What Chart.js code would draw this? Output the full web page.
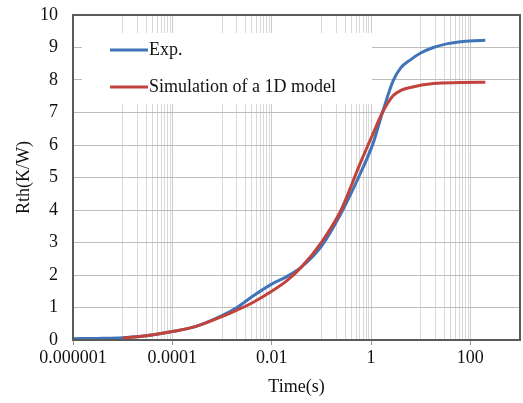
<!DOCTYPE html>
<html>
<head>
<meta charset="utf-8">
<script src="https://cdn.jsdelivr.net/npm/chart.js@4.4.1/dist/chart.umd.min.js"></script>
<style>
  html, body { margin: 0; padding: 0; background: #ffffff; }
  #wrap { width: 523px; height: 403px; position: relative; }
</style>
</head>
<body>
<div id="wrap"><canvas id="c" width="523" height="403"></canvas></div>
<script>
// ---- data ----
const seriesNames = ['Exp.', 'Simulation of a 1D model'];

const expTime = [1e-6, 3e-6, 1e-5, 3e-5, 1e-4, 3e-4, 1e-3, 2e-3, 4e-3, 1e-2, 2e-2, 4e-2, 0.1, 0.25, 0.6, 1.1, 1.7, 2.8, 4, 6.2, 10, 18, 35, 63, 120, 200];
const expRth  = [0.04, 0.05, 0.07, 0.13, 0.26, 0.42, 0.75, 1.0, 1.33, 1.72, 1.95, 2.25, 2.88, 3.9, 5.1, 6.05, 7.0, 7.98, 8.38, 8.62, 8.83, 9.0, 9.12, 9.18, 9.21, 9.22];

const simTime = [1e-5, 3e-5, 1e-4, 3e-4, 1e-3, 2e-3, 4e-3, 1e-2, 2e-2, 4e-2, 0.1, 0.25, 0.6, 1.1, 1.7, 2.8, 4, 6.2, 18, 63, 200];
const simRth  = [0.06, 0.13, 0.26, 0.42, 0.72, 0.92, 1.14, 1.5, 1.82, 2.25, 3.0, 4.0, 5.42, 6.35, 7.0, 7.52, 7.68, 7.77, 7.89, 7.92, 7.93];

const xTickValues = [1e-6, 1e-4, 1e-2, 1, 100];
const xTickLabels = ['0.000001', '0.0001', '0.01', '1', '100'];
// decades carrying minor gridlines (start of decade)
const minorDecades = [1e-5, 1e-3, 1e-1, 10];
const minorSteps = [1, 2, 3, 4, 5, 6, 7, 8, 9];

const yTicks = [0, 1, 2, 3, 4, 5, 6, 7, 8, 9, 10];

const colors = ['#3F74B9', '#C1433C'];

// ---- build ----
const toPts = (xs, ys) => xs.map((x, i) => ({ x: x, y: ys[i] }));

function isMajor(v) {
  return xTickValues.some(m => Math.abs(Math.log10(v) - Math.log10(m)) < 1e-6);
}

const FONT = 'Liberation Serif';

const frameAndLegend = {
  id: 'frameAndLegend',
  beforeDatasetsDraw(chart) {
    const { ctx, chartArea: a } = chart;
    const bx = a.left + 9, by = a.top + 18, bw = 290, bh = 71;
    ctx.save();
    ctx.fillStyle = '#ffffff';
    ctx.fillRect(bx, by, bw, bh);
    ctx.restore();
  },
  afterDatasetsDraw(chart) {
    const { ctx, chartArea: a } = chart;
    ctx.save();
    ctx.strokeStyle = '#5a5a5a';
    ctx.lineWidth = 2;
    ctx.strokeRect(a.left, a.top, a.right - a.left, a.bottom - a.top);
    const bx = a.left + 37;
    const rows = [a.top + 35, a.top + 72];
    ctx.font = '18px "' + FONT + '"';
    ctx.textBaseline = 'middle';
    chart.data.datasets.forEach((ds, i) => {
      const y = rows[i];
      ctx.strokeStyle = ds.borderColor;
      ctx.lineWidth = 3;
      ctx.beginPath();
      ctx.moveTo(bx, y);
      ctx.lineTo(bx + 38, y);
      ctx.stroke();
      ctx.fillStyle = '#111111';
      ctx.fillText(ds.label, bx + 39, y);
    });
    ctx.restore();
  }
};

new Chart(document.getElementById('c'), {
  type: 'line',
  data: {
    datasets: [
      { label: seriesNames[0], order: 2, data: toPts(expTime, expRth), borderColor: colors[0], backgroundColor: colors[0], borderWidth: 3, pointRadius: 0, cubicInterpolationMode: 'monotone', fill: false },
      { label: seriesNames[1], order: 1, data: toPts(simTime, simRth), borderColor: colors[1], backgroundColor: colors[1], borderWidth: 3, pointRadius: 0, cubicInterpolationMode: 'monotone', fill: false }
    ]
  },
  options: {
    responsive: false,
    animation: false,
    events: [],
    layout: { padding: { top: 15, right: 3, left: 0, bottom: 0 } },
    plugins: {
      legend: { display: false },
      tooltip: { enabled: false }
    },
    scales: {
      x: {
        type: 'logarithmic',
        min: 1e-6,
        max: 1e3,
        afterBuildTicks(scale) {
          const t = xTickValues.map(v => ({ value: v }));
          minorDecades.forEach(d => minorSteps.forEach(s => {
            const v = d * s;
            if (!isMajor(v)) t.push({ value: v });
          }));
          t.sort((p, q) => p.value - q.value);
          scale.ticks = t;
        },
        afterFit(scale) { scale.height = 63; },
        ticks: {
          autoSkip: false,
          maxRotation: 0,
          minRotation: 0,
          padding: 2,
          color: '#111111',
          font: { family: FONT, size: 18 },
          callback(value) {
            const i = xTickValues.findIndex(m => Math.abs(Math.log10(value) - Math.log10(m)) < 1e-6);
            return i >= 0 ? xTickLabels[i] : '';
          }
        },
        grid: {
          drawTicks: true,
          tickLength: 5,
          color(ctx) { return ctx.tick && isMajor(ctx.tick.value) ? '#cccccc' : '#d9d9d9'; },
          tickColor(ctx) { return ctx.tick && isMajor(ctx.tick.value) ? '#9a9a9a' : 'rgba(0,0,0,0)'; },
          lineWidth: 1
        },
        border: { display: true, color: '#5a5a5a', width: 2 },
        title: {
          display: true,
          text: 'Time(s)',
          color: '#111111',
          font: { family: FONT, size: 18 },
          padding: { top: 0, bottom: 5 }
        }
      },
      y: {
        type: 'linear',
        min: 0,
        max: 10,
        afterBuildTicks(scale) { scale.ticks = yTicks.map(v => ({ value: v })); },
        afterFit(scale) { scale.width = 73; },
        ticks: {
          padding: 0,
          color: '#111111',
          font: { family: FONT, size: 18 }
        },
        grid: {
          drawTicks: true,
          tickLength: 15,
          tickColor: 'rgba(0,0,0,0)',
          color: '#bdbdbd',
          lineWidth: 1
        },
        border: { display: true, color: '#5a5a5a', width: 2 },
        title: {
          display: true,
          text: 'Rth(K/W)',
          color: '#111111',
          font: { family: FONT, size: 18 },
          padding: { top: 13, bottom: 0 }
        }
      }
    }
  },
  plugins: [frameAndLegend]
});
</script>
</body>
</html>
